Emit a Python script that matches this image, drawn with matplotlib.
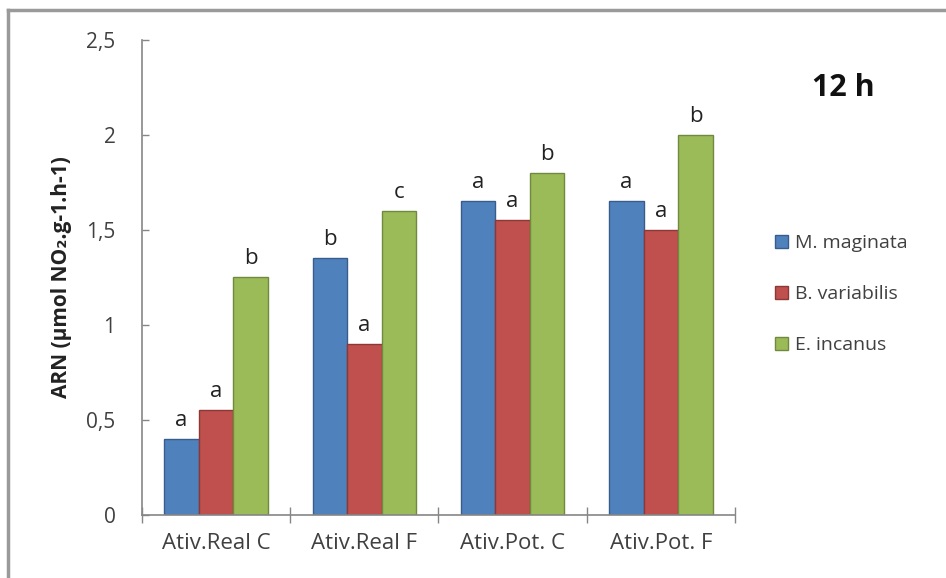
import numpy as np
import matplotlib
matplotlib.use("Agg")
import matplotlib.pyplot as plt
from matplotlib.lines import Line2D

plt.rcParams['font.family'] = ['Open Sans', 'DejaVu Sans']

# data
categories = ['Ativ.Real C', 'Ativ.Real F', 'Ativ.Pot. C', 'Ativ.Pot. F']
species = ['M. maginata', 'B. variabilis', 'E. incanus']
m_maginata = [0.40, 1.35, 1.65, 1.65]
b_variabilis = [0.55, 0.90, 1.55, 1.50]
e_incanus = [1.25, 1.60, 1.80, 2.00]
letters_m = ['a', 'b', 'a', 'a']
letters_b = ['a', 'a', 'a', 'a']
letters_e = ['b', 'c', 'b', 'b']

series = [m_maginata, b_variabilis, e_incanus]
letters = [letters_m, letters_b, letters_e]
colors = ['#4F81BD', '#C0504D', '#9BBB59']
edges = ['#385D8A', '#8C3836', '#71893F']

fig = plt.figure(figsize=(9.46, 5.78), dpi=100)
ax = fig.add_axes([0.150, 0.109, 0.627, 0.822])

x = np.arange(len(categories))
w = 0.233
txtcol = '#404040'
for k, (vals, lab) in enumerate(zip(series, letters)):
    pos = x + (k - 1) * w
    ax.bar(pos, vals, width=w, color=colors[k], edgecolor=edges[k],
           linewidth=1.0, label=species[k], zorder=2)
    for px, v, l in zip(pos, vals, lab):
        ax.annotate(l, (px, v), xytext=(0, 6), textcoords='offset points',
                    ha='center', va='bottom', fontsize=16, color='#222222')

ax.set_xlim(-0.5, 3.5)
ax.set_ylim(0, 2.5)
ax.set_yticks([0, 0.5, 1, 1.5, 2, 2.5])
ax.set_yticklabels(['0', '0,5', '1', '1,5', '2', '2,5'])

# group boundaries as major ticks, names on minor ticks
ax.set_xticks(np.arange(len(categories) + 1) - 0.5)
ax.set_xticklabels([])
ax.set_xticks(x, minor=True)
ax.set_xticklabels(categories, minor=True)
ax.tick_params(axis='x', which='major', direction='inout', length=12,
               color='#868686', width=1)
ax.tick_params(axis='x', which='minor', length=0, pad=13, labelsize=16,
               labelcolor=txtcol)
ax.tick_params(axis='y', direction='in', length=5, color='#868686', width=1,
               pad=19, labelsize=15, labelcolor=txtcol)

for s in ['top', 'right']:
    ax.spines[s].set_visible(False)
for s in ['left', 'bottom']:
    ax.spines[s].set_color('#868686')
    ax.spines[s].set_linewidth(1.2)

fig.text(61 / 946, 1 - 277 / 578, 'ARN (µmol NO₂.g-1.h-1)', rotation=90,
         ha='center', va='center', fontsize=15, fontweight='bold', color='#222222')

fig.text(843 / 946, 1 - 88 / 578, '12 h', ha='center', va='center',
         fontsize=22, fontweight='bold', color='#111111')

leg = fig.legend(loc='center left', bbox_to_anchor=(775 / 946, 1 - 294 / 578),
                 frameon=False, fontsize=14, labelspacing=1.7, borderpad=0,
                 borderaxespad=0, handlelength=0.65, handleheight=0.65,
                 handletextpad=0.4, labelcolor=txtcol)

# outer chart frame (left and top edges visible)
fig.add_artist(Line2D([8 / 946, 8 / 946], [0, 1 - 10 / 578],
                      transform=fig.transFigure, color='#9a9a9a', lw=2.5))
fig.add_artist(Line2D([8 / 946, 1], [1 - 10 / 578, 1 - 10 / 578],
                      transform=fig.transFigure, color='#9a9a9a', lw=2.5))

fig.savefig('out.png', dpi=100)
